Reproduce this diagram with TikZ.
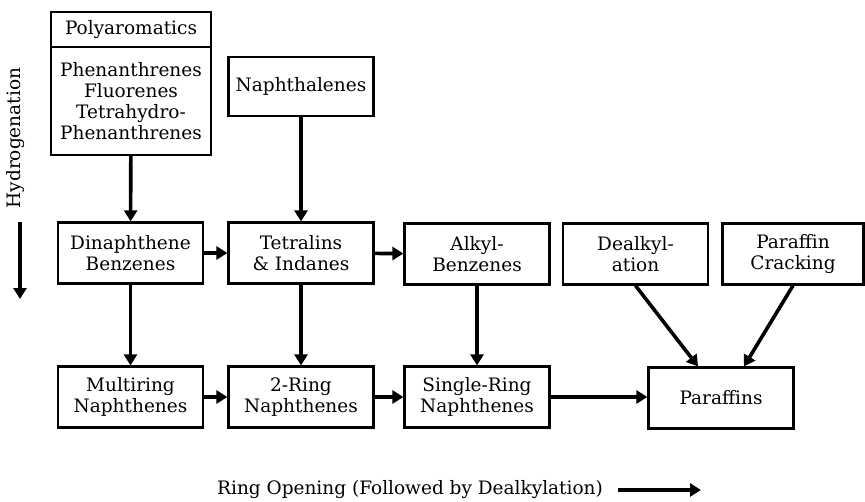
\documentclass[tikz,border=0pt]{standalone}
\usepackage{fontspec}
\setmainfont{DejaVu Serif}
\usetikzlibrary{arrows.meta}

\tikzset{
    box/.style = {draw, line width = 2.2pt, align = center, inner sep = 2pt,
                  minimum width = 145pt, minimum height = 61pt},
    flow/.style = {line width = 3.6pt, -{Triangle[length = 11pt, width = 13pt]}}
}

\begin{document}
\begin{tikzpicture}[x = 1pt, y = -1pt,
                    font = \fontsize{18.5}{21}\selectfont]
            \useasboundingbox (0, 0) rectangle (865, 501);

            % top row
            \node [box, minimum width = 160pt, minimum height = 35pt]
                  (polyhead) at (131, 29.5) {Polyaromatics};
            \node [box, minimum width = 160pt, minimum height = 108pt]
                  (polybody) at (131, 101)
                  {Phenanthrenes\\Fluorenes\\Tetrahydro-\\Phenanthrenes};
            \node [box, minimum height = 59pt] (naph) at (301, 86.5)
                  {Naphthalenes};

            % middle row
            \node [box] (dinaph) at (130.5, 253) {Dinaphthene\\Benzenes};
            \node [box] (tetra)  at (301, 253)   {Tetralins\\\& Indanes};
            \node [box] (alkyl)  at (477, 254)   {Alkyl-\\Benzenes};
            \node [box] (dealk)  at (635.5, 254) {Dealkyl-\\ation};
            \node [box, minimum width = 141pt] (crack) at (793, 254)
                  {Paraffin\\Cracking};

            % bottom row
            \node [box] (multi)   at (130.5, 397) {Multiring\\Naphthenes};
            \node [box] (tworing) at (301, 397)   {2-Ring\\Naphthenes};
            \node [box] (single)  at (477, 397)   {Single-Ring\\Naphthenes};
            \node [box] (paraf)   at (721, 398)   {Paraffins};

            \draw [flow] (polybody) -- (dinaph); % hydrogenation
            \draw [flow] (naph) -- (tetra);
            \draw [flow] (dinaph) -- (multi);
            \draw [flow] (tetra) -- (tworing);
            \draw [flow] (alkyl) -- (single);

            \draw [flow] (dinaph) -- (tetra); % ring opening
            \draw [flow] (tetra) -- (alkyl);
            \draw [flow] (multi) -- (tworing);
            \draw [flow] (tworing) -- (single);
            \draw [flow] (single.east) -- (single.east -| paraf.west);

            \draw [flow] (dealk.south) -- (paraf.126);
            \draw [flow] (crack.south) -- (paraf.54);

            % axis labels
            \node [rotate = 90] (hydro) at (16, 138) {Hydrogenation};
            \coordinate (htop) at (20, 222);
            \coordinate (hbot) at (20, 299);
            \draw [flow] (htop) -- (hbot);

            \node (ring) at (410, 490) {Ring Opening (Followed by Dealkylation)};
            \coordinate (rstart) at (618, 490);
            \coordinate (rend) at (701, 490);
            \draw [flow] (rstart) -- (rend);
        \end{tikzpicture}
\end{document}
